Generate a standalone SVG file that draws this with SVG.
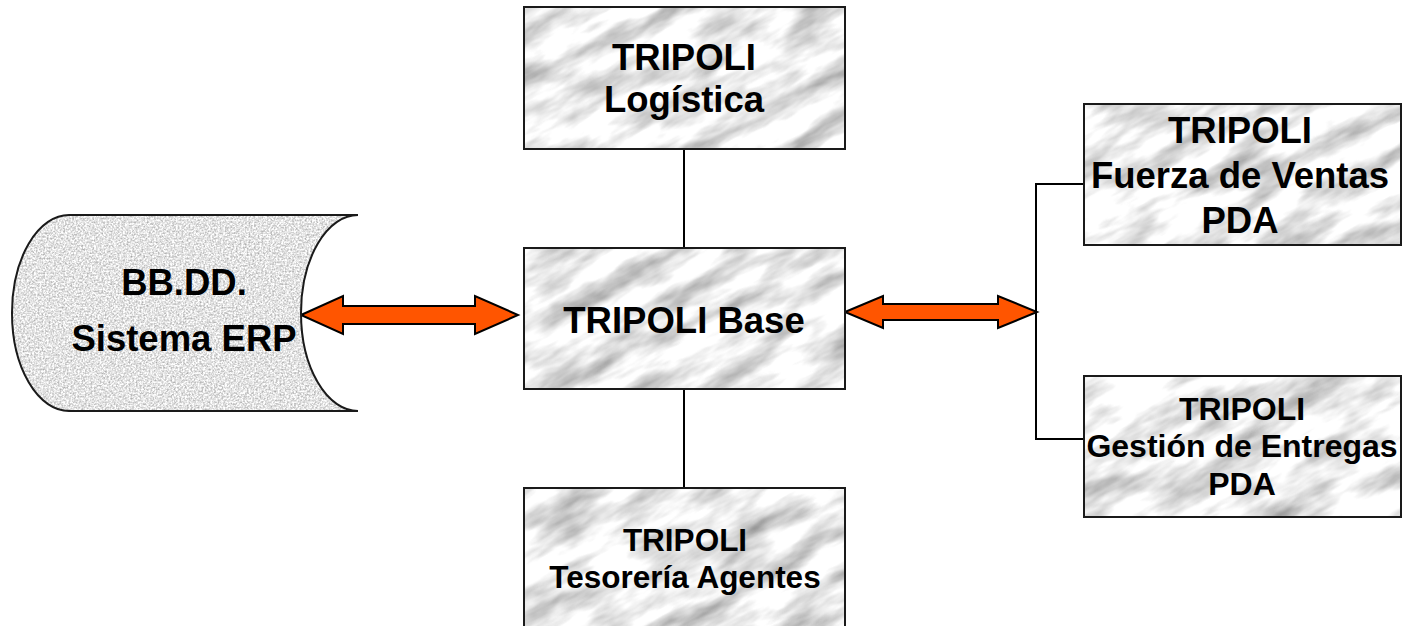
<svg xmlns="http://www.w3.org/2000/svg" width="1403" height="626" viewBox="0 0 1403 626">
<style>
.box{fill:none;stroke:#1a1a1a;stroke-width:2}
.fill{fill:#fff}
.conn{fill:none;stroke:#000;stroke-width:2}
.arrow{fill:#FF5500;stroke:#000;stroke-width:2;stroke-linejoin:miter}
text{font-family:"Liberation Sans",Arial,sans-serif;font-weight:bold;fill:#000;text-anchor:middle}
.t36{font-size:36.5px}
.t32{font-size:32px}
.t31{font-size:31.5px}
</style>
<defs>
<filter id="marble" x="0" y="0" width="1" height="1" color-interpolation-filters="sRGB">
<feTurbulence type="fractalNoise" baseFrequency="0.014 0.045" numOctaves="4" seed="5" result="n"/>
<feColorMatrix in="n" type="matrix" values="-0.75 0 0 0 1.3  -0.75 0 0 0 1.3  -0.75 0 0 0 1.3  0 0 0 0 1"/>
<feComposite in2="SourceGraphic" operator="in"/>
</filter>
<filter id="granite" x="0" y="0" width="1" height="1" color-interpolation-filters="sRGB">
<feTurbulence type="fractalNoise" baseFrequency="0.55" numOctaves="2" seed="2" result="n"/>
<feColorMatrix in="n" type="matrix" values="-0.6 0 0 0 1.19  -0.6 0 0 0 1.19  -0.6 0 0 0 1.19  0 0 0 0 1"/>
<feComposite in2="SourceGraphic" operator="in"/>
</filter>
</defs>

<g id="connectors">
<line class="conn" x1="684" y1="149" x2="684" y2="248"/>
<line class="conn" x1="684" y1="389" x2="684" y2="488"/>
<polyline class="conn" points="1084,184 1036,184 1036,439 1084,439"/>
<polygon class="arrow" points="301,315 343,296 343,306 475,306 475,296 518,315 475,334 475,324 343,324 343,334"/>
<polygon class="arrow" points="845,312 883,296 883,304 998,304 998,296 1037,312 998,328 998,320 883,320 883,328"/>
</g>

<g id="node-erp">
<path class="fill" filter="url(#granite)" d="M69,215 L358,215 A57,98 0 0 0 358,411 L69,411 A57,98 0 0 1 69,215 Z"/>
<path class="box" d="M69,215 L358,215 A57,98 0 0 0 358,411 L69,411 A57,98 0 0 1 69,215 Z"/>
<text class="t36" x="184" y="295">BB.DD.</text>
<text class="t36" x="184" y="351">Sistema ERP</text>
</g>

<g id="node-logistica">
<g transform="rotate(-28 684 78)" filter="url(#marble)"><rect class="fill" x="524" y="7" width="321" height="142" transform="rotate(28 684 78)"/></g>
<rect class="box" x="524" y="7" width="321" height="142"/>
<text class="t36" x="684" y="70">TRIPOLI</text>
<text class="t36" x="684" y="112">Logística</text>
</g>

<g id="node-base">
<g transform="rotate(-28 684 318)" filter="url(#marble)"><rect class="fill" x="524" y="248" width="321" height="141" transform="rotate(28 684 318)"/></g>
<rect class="box" x="524" y="248" width="321" height="141"/>
<text class="t36" x="684" y="333">TRIPOLI Base</text>
</g>

<g id="node-tesoreria">
<g transform="rotate(-28 684 560)" filter="url(#marble)"><rect class="fill" x="524" y="488" width="321" height="150" transform="rotate(28 684 560)"/></g>
<rect class="box" x="524" y="488" width="321" height="150"/>
<text class="t31" x="685" y="551">TRIPOLI</text>
<text class="t31" x="685" y="588">Tesorería Agentes</text>
</g>

<g id="node-fuerza">
<g transform="rotate(-28 1242 174)" filter="url(#marble)"><rect class="fill" x="1084" y="104" width="317" height="141" transform="rotate(28 1242 174)"/></g>
<rect class="box" x="1084" y="104" width="317" height="141"/>
<text class="t36" x="1240" y="143">TRIPOLI</text>
<text class="t36" x="1240" y="188">Fuerza de Ventas</text>
<text class="t36" x="1240" y="233">PDA</text>
</g>

<g id="node-entregas">
<g transform="rotate(-28 1242 446)" filter="url(#marble)"><rect class="fill" x="1084" y="376" width="317" height="141" transform="rotate(28 1242 446)"/></g>
<rect class="box" x="1084" y="376" width="317" height="141"/>
<text class="t32" x="1242" y="420">TRIPOLI</text>
<text class="t32" x="1242" y="457">Gestión de Entregas</text>
<text class="t32" x="1242" y="495">PDA</text>
</g>
</svg>
